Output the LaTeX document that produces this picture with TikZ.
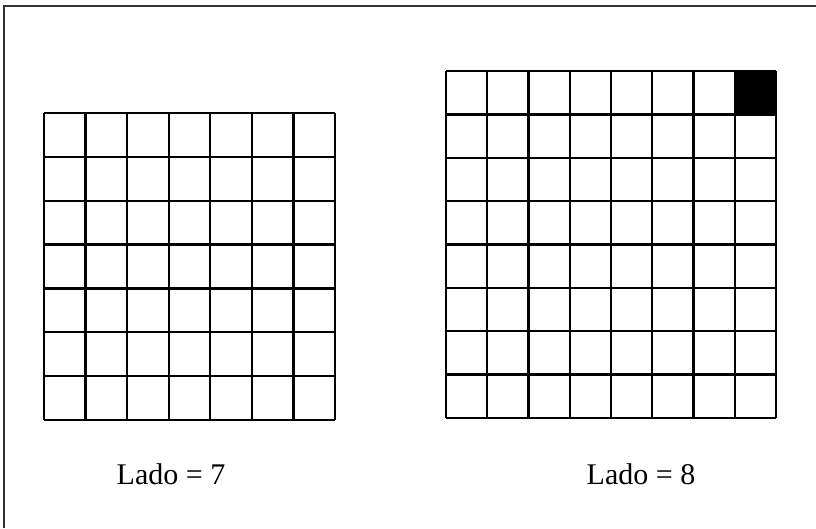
\documentclass[tikz,border=0pt]{standalone}
\usepackage{fontspec}
\setmainfont{Liberation Serif}
\begin{document}
\begin{tikzpicture}[x=1pt,y=-1pt,
  gridline/.style={line width=2.4pt,black},
  frameline/.style={line width=1.6pt,black!80},
  lbl/.style={font=\fontsize{30}{34}\selectfont,anchor=base,inner sep=0pt}]
\useasboundingbox (0,0) rectangle (816,528);
% frame (open at right and bottom)
\draw[frameline] (4,528) -- (4,6) -- (816,6);
% left grid 7x7
\foreach \i in {0,...,7}{
  \draw[gridline] ({44+\i*291/7},113) -- ({44+\i*291/7},420);
  \draw[gridline] (44,{113+\i*307/7}) -- (335,{113+\i*307/7});
}
% right grid 8x8
\fill[black] ({446+7*330/8},71) rectangle (776,{71+347/8});
\foreach \i in {0,...,8}{
  \draw[gridline] ({446+\i*330/8},71) -- ({446+\i*330/8},418);
  \draw[gridline] (446,{71+\i*347/8}) -- (776,{71+\i*347/8});
}
\node[lbl] (l7) at (171,484) {Lado = 7};
\node[lbl] (l8) at (641,484) {Lado = 8};
\end{tikzpicture}
\end{document}
